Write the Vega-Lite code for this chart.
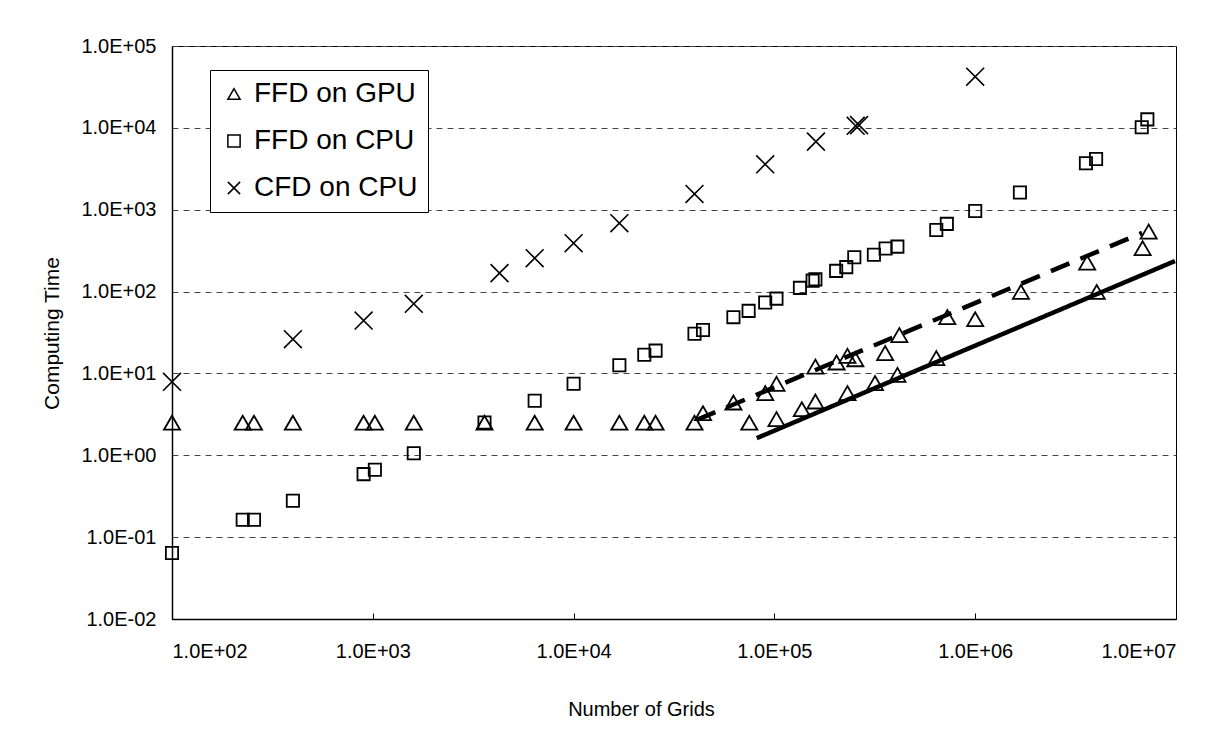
{
  "$schema": "https://vega.github.io/schema/vega-lite/v6.json",
  "autosize": {"type": "none"},
  "width": 1004,
  "height": 573,
  "padding": {"left": 172, "top": 46, "right": 49, "bottom": 126},
  "background": "white",
  "config": {
    "font": "Liberation Sans",
    "view": {"stroke": "#000", "strokeWidth": 1},
    "axis": {"domainColor": "#000", "tickColor": "#000", "labelColor": "#000", "titleColor": "#000", "titleFontWeight": "normal", "labelFont": "Liberation Sans", "titleFont": "Liberation Sans"},
    "legend": {
      "orient": "none",
      "legendX": 38,
      "legendY": 24,
      "fillColor": "white",
      "strokeColor": "#000",
      "padding": 10,
      "rowPadding": 19,
      "labelFontSize": 28,
      "labelLimit": 400,
      "labelFont": "Liberation Sans",
      "labelColor": "#000",
      "symbolSize": 150,
      "symbolStrokeWidth": 1.5,
      "symbolStrokeColor": "#000",
      "symbolFillColor": "transparent",
      "labelOffset": 6
    }
  },
  "datasets": {
    "pts": [
      {"series": "FFD on GPU", "grids": 100, "time": 2.5},
      {"series": "FFD on GPU", "grids": 225, "time": 2.5},
      {"series": "FFD on GPU", "grids": 256, "time": 2.5},
      {"series": "FFD on GPU", "grids": 400, "time": 2.5},
      {"series": "FFD on GPU", "grids": 900, "time": 2.5},
      {"series": "FFD on GPU", "grids": 1024, "time": 2.5},
      {"series": "FFD on GPU", "grids": 1600, "time": 2.5},
      {"series": "FFD on GPU", "grids": 3600, "time": 2.5},
      {"series": "FFD on GPU", "grids": 6400, "time": 2.5},
      {"series": "FFD on GPU", "grids": 10000, "time": 2.5},
      {"series": "FFD on GPU", "grids": 16900, "time": 2.5},
      {"series": "FFD on GPU", "grids": 22500, "time": 2.5},
      {"series": "FFD on GPU", "grids": 25600, "time": 2.5},
      {"series": "FFD on GPU", "grids": 40000, "time": 2.5},
      {"series": "FFD on GPU", "grids": 44100, "time": 3.27},
      {"series": "FFD on GPU", "grids": 62500, "time": 4.41},
      {"series": "FFD on GPU", "grids": 75000, "time": 2.5},
      {"series": "FFD on GPU", "grids": 90000, "time": 5.75},
      {"series": "FFD on GPU", "grids": 102400, "time": 7.46},
      {"series": "FFD on GPU", "grids": 102400, "time": 2.77},
      {"series": "FFD on GPU", "grids": 137000, "time": 3.66},
      {"series": "FFD on GPU", "grids": 160000, "time": 4.54},
      {"series": "FFD on GPU", "grids": 160000, "time": 12.1},
      {"series": "FFD on GPU", "grids": 204000, "time": 13.6},
      {"series": "FFD on GPU", "grids": 231000, "time": 5.75},
      {"series": "FFD on GPU", "grids": 231000, "time": 16.4},
      {"series": "FFD on GPU", "grids": 253000, "time": 14.9},
      {"series": "FFD on GPU", "grids": 317000, "time": 7.62},
      {"series": "FFD on GPU", "grids": 356000, "time": 17.7},
      {"series": "FFD on GPU", "grids": 410000, "time": 9.6},
      {"series": "FFD on GPU", "grids": 419000, "time": 29.4},
      {"series": "FFD on GPU", "grids": 640000, "time": 15.4},
      {"series": "FFD on GPU", "grids": 726000, "time": 48.7},
      {"series": "FFD on GPU", "grids": 1000000, "time": 46},
      {"series": "FFD on GPU", "grids": 1690000, "time": 99},
      {"series": "FFD on GPU", "grids": 3610000, "time": 226},
      {"series": "FFD on GPU", "grids": 4030000, "time": 99},
      {"series": "FFD on GPU", "grids": 6820000, "time": 339},
      {"series": "FFD on GPU", "grids": 7310000, "time": 540},
      {"series": "FFD on CPU", "grids": 100, "time": 0.064},
      {"series": "FFD on CPU", "grids": 225, "time": 0.163},
      {"series": "FFD on CPU", "grids": 256, "time": 0.163},
      {"series": "FFD on CPU", "grids": 400, "time": 0.278},
      {"series": "FFD on CPU", "grids": 900, "time": 0.589},
      {"series": "FFD on CPU", "grids": 1024, "time": 0.665},
      {"series": "FFD on CPU", "grids": 1600, "time": 1.06},
      {"series": "FFD on CPU", "grids": 3600, "time": 2.52},
      {"series": "FFD on CPU", "grids": 6400, "time": 4.63},
      {"series": "FFD on CPU", "grids": 10000, "time": 7.46},
      {"series": "FFD on CPU", "grids": 16900, "time": 12.6},
      {"series": "FFD on CPU", "grids": 22500, "time": 16.9},
      {"series": "FFD on CPU", "grids": 25600, "time": 19},
      {"series": "FFD on CPU", "grids": 40000, "time": 30.5},
      {"series": "FFD on CPU", "grids": 44100, "time": 34},
      {"series": "FFD on CPU", "grids": 62500, "time": 48.7},
      {"series": "FFD on CPU", "grids": 74400, "time": 58.1},
      {"series": "FFD on CPU", "grids": 90000, "time": 73.4},
      {"series": "FFD on CPU", "grids": 102400, "time": 82},
      {"series": "FFD on CPU", "grids": 134000, "time": 111},
      {"series": "FFD on CPU", "grids": 155000, "time": 136},
      {"series": "FFD on CPU", "grids": 160000, "time": 141},
      {"series": "FFD on CPU", "grids": 203000, "time": 179},
      {"series": "FFD on CPU", "grids": 228000, "time": 199},
      {"series": "FFD on CPU", "grids": 250000, "time": 263},
      {"series": "FFD on CPU", "grids": 313000, "time": 281},
      {"series": "FFD on CPU", "grids": 358000, "time": 336},
      {"series": "FFD on CPU", "grids": 409600, "time": 354},
      {"series": "FFD on CPU", "grids": 640000, "time": 566},
      {"series": "FFD on CPU", "grids": 722500, "time": 671},
      {"series": "FFD on CPU", "grids": 1000000, "time": 966},
      {"series": "FFD on CPU", "grids": 1670000, "time": 1620},
      {"series": "FFD on CPU", "grids": 3560000, "time": 3700},
      {"series": "FFD on CPU", "grids": 4000000, "time": 4170},
      {"series": "FFD on CPU", "grids": 6750000, "time": 10200},
      {"series": "FFD on CPU", "grids": 7200000, "time": 12700},
      {"series": "CFD on CPU", "grids": 100, "time": 7.9},
      {"series": "CFD on CPU", "grids": 400, "time": 26.2},
      {"series": "CFD on CPU", "grids": 900, "time": 44.3},
      {"series": "CFD on CPU", "grids": 1600, "time": 70.8},
      {"series": "CFD on CPU", "grids": 4276, "time": 168},
      {"series": "CFD on CPU", "grids": 6400, "time": 256},
      {"series": "CFD on CPU", "grids": 10000, "time": 390},
      {"series": "CFD on CPU", "grids": 16900, "time": 684},
      {"series": "CFD on CPU", "grids": 40000, "time": 1560},
      {"series": "CFD on CPU", "grids": 90000, "time": 3590},
      {"series": "CFD on CPU", "grids": 161000, "time": 6790},
      {"series": "CFD on CPU", "grids": 254000, "time": 10600},
      {"series": "CFD on CPU", "grids": 264000, "time": 10800},
      {"series": "CFD on CPU", "grids": 1000000, "time": 42200}
    ],
    "fits": [
      {"fit": "dashed", "grids": 41100, "time": 2.71},
      {"fit": "dashed", "grids": 6780000, "time": 521},
      {"fit": "solid", "grids": 81700, "time": 1.62},
      {"fit": "solid", "grids": 9880000, "time": 236}
    ]
  },
  "encoding": {
    "x": {
      "field": "grids", "type": "quantitative",
      "scale": {"type": "log", "domain": [100, 10000000], "nice": false},
      "axis": {
        "values": [100, 1000, 10000, 100000, 1000000, 10000000],
        "labelExpr": "replace(replace(format(datum.value, '.1e'), 'e+', 'E+0'), 'e-', 'E-0')",
        "title": "Number of Grids",
        "grid": false,
        "tickSize": -6,
        "labelPadding": 28,
        "labelFontSize": 20,
        "titleFontSize": 20,
        "titleX": 469,
        "titleY": 90,
        "titleBaseline": "middle",
        "titleAlign": "center",
        "domainWidth": 1.5
      }
    },
    "y": {
      "field": "time", "type": "quantitative",
      "scale": {"type": "log", "domain": [0.01, 100000], "nice": false},
      "axis": {
        "values": [0.01, 0.1, 1, 10, 100, 1000, 10000, 100000],
        "labelExpr": "replace(replace(format(datum.value, '.1e'), 'e+', 'E+0'), 'e-', 'E-0')",
        "title": "Computing Time",
        "grid": true,
        "gridDash": [6, 5],
        "gridColor": "#444",
        "gridWidth": 1,
        "ticks": false,
        "labelPadding": 16,
        "labelFontSize": 20,
        "titleFontSize": 21,
        "titleX": -120,
        "titleY": 287,
        "titleAngle": -90,
        "titleBaseline": "middle",
        "titleAlign": "center",
        "domainWidth": 1.5
      }
    }
  },
  "layer": [
    {
      "data": {"name": "pts"},
      "transform": [{"filter": "datum.series === 'FFD on GPU'"}],
      "mark": {"type": "point", "filled": false, "color": "#000", "strokeWidth": 1.8, "opacity": 1, "size": 260},
      "encoding": {
        "shape": {
          "field": "series", "type": "nominal",
          "scale": {"domain": ["FFD on GPU", "FFD on CPU", "CFD on CPU"], "range": ["triangle-up", "square", "M-1,-1L1,1M-1,1L1,-1"]},
          "legend": {"title": null}
        }
      }
    },
    {
      "data": {"name": "pts"},
      "transform": [{"filter": "datum.series === 'FFD on CPU'"}],
      "mark": {"type": "point", "filled": false, "color": "#000", "strokeWidth": 1.8, "opacity": 1, "size": 150},
      "encoding": {
        "shape": {
          "field": "series", "type": "nominal",
          "scale": {"domain": ["FFD on GPU", "FFD on CPU", "CFD on CPU"], "range": ["triangle-up", "square", "M-1,-1L1,1M-1,1L1,-1"]},
          "legend": {"title": null}
        }
      }
    },
    {
      "data": {"name": "pts"},
      "transform": [{"filter": "datum.series === 'CFD on CPU'"}],
      "mark": {"type": "point", "filled": false, "color": "#000", "strokeWidth": 1.6, "opacity": 1, "size": 320},
      "encoding": {
        "shape": {
          "field": "series", "type": "nominal",
          "scale": {"domain": ["FFD on GPU", "FFD on CPU", "CFD on CPU"], "range": ["triangle-up", "square", "M-1,-1L1,1M-1,1L1,-1"]},
          "legend": {"title": null}
        }
      }
    },
    {
      "data": {"name": "fits"},
      "mark": {"type": "line", "color": "#000", "strokeWidth": 4.5},
      "encoding": {
        "detail": {"field": "fit"},
        "strokeDash": {"field": "fit", "type": "nominal", "scale": {"domain": ["dashed", "solid"], "range": [[20, 12], [1, 0]]}, "legend": null}
      }
    }
  ]
}
